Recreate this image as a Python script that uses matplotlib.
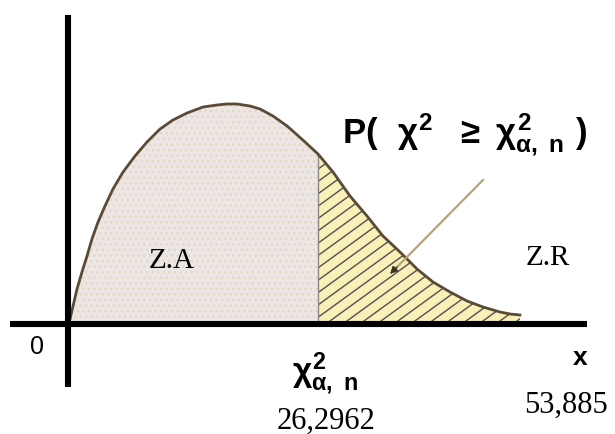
import matplotlib
matplotlib.use("Agg")
import matplotlib.pyplot as plt
import numpy as np

plt.rcParams['mathtext.fontset'] = 'custom'
plt.rcParams['mathtext.rm'] = 'Liberation Sans:bold'
plt.rcParams['mathtext.it'] = 'Liberation Sans:bold'
plt.rcParams['mathtext.bf'] = 'Liberation Sans:bold'

# chi-square curve (x in chi^2 units, y = height above the axis)
curve_x = [0.0, 0.21, 0.53, 0.95, 1.47, 2.00, 2.52, 3.16, 3.89, 4.73, 5.79,
           7.05, 8.31, 9.68, 11.04, 12.52, 14.20, 15.67, 16.72, 17.78, 19.14,
           20.20, 21.56, 23.04, 23.88, 24.93, 26.2962, 27.87, 29.66, 31.45,
           33.13, 34.92, 36.71, 38.39, 40.18, 41.97, 43.65, 45.44, 46.49, 47.54]
curve_y = [0, 5, 18, 35, 52, 68, 85, 102, 118, 135, 152,
           168, 182, 195, 204, 211, 217, 219, 220, 220, 218,
           215, 208, 198, 191, 182, 170, 152, 128, 108,
           88, 72, 55, 42, 32, 23, 17, 12, 10, 9]

critical = 26.2962
critical_label = '26,2962'
upper_label = '53,885'

x = np.array(curve_x)
y = np.array(curve_y)

fig = plt.figure(figsize=(6.15, 4.35), dpi=100)
ax = fig.add_axes([0, 0, 1, 1])
ax.set_xlim(-7.153, 57.535)
ax.set_ylim(-110, 325)
ax.axis('off')

# acceptance zone (left)
left = x <= critical
ax.fill_between(x[left], 0, y[left], facecolor='#ece6e6', edgecolor='#e2dabb',
                hatch='...', linewidth=0)

# rejection zone (right), hatched with shallow diagonal lines
right = x >= critical
poly = ax.fill_between(x[right], 0, y[right], facecolor='#f9f0b8', linewidth=0)
clip = poly.get_paths()[0]
slope = np.tan(np.radians(36)) * 9.507
for x0 in np.arange(critical - 26, 49, 17 / 9.507):
    ln, = ax.plot([x0, x0 + 26], [0, 26 * slope], color='#505050', lw=1.0)
    ln.set_clip_path(clip, ax.transData)

ax.vlines(critical, 0, y[x == critical][0], color='#8a8a80', lw=1)
ax.plot(x, y, color='#5b4a35', lw=2)

# axes drawn as thick black lines
ax.plot([-6.10, 54.59], [0, 0], color='black', lw=4.4, solid_capstyle='butt')
ax.plot([0, 0], [-63, 309], color='black', lw=4.4, solid_capstyle='butt')

# pointer
ax.plot([43.65, 34.3], [144, 54], color='#b5a37a', lw=1.6)
ax.annotate('', xy=(33.87, 50), xytext=(34.6, 57),
            arrowprops=dict(arrowstyle='-|>', color='#3a3020', lw=1,
                            mutation_scale=11, shrinkA=0, shrinkB=0))

ax.text(28.8, 182,
        r'$\mathrm{P(}\ \ \chi^2\ \ \geq\ \chi^2_{\alpha,\ n}\ \mathrm{)}$',
        fontsize=25, ha='left', va='baseline')
ax.text(10.94, 64, 'Z.A', family='Liberation Serif', fontsize=21,
        ha='center', va='center')
ax.text(50.49, 67, 'Z.R', family='Liberation Serif', fontsize=21,
        ha='center', va='center')
ax.text(-3.26, -22, '0', family='Liberation Sans', fontsize=18,
        ha='center', va='center')
ax.text(53.86, -33, 'x', family='Liberation Sans', fontweight='bold',
        fontsize=19, ha='center', va='center')
ax.text(23.56, -57, r'$\chi^2_{\alpha,\ n}$', fontsize=24, ha='left',
        va='baseline')
ax.text(27.14, -96, critical_label, family='Liberation Serif', fontsize=22,
        ha='center', va='center')
ax.text(52.38, -80, upper_label, family='Liberation Serif', fontsize=22,
        ha='center', va='center')

fig.savefig('out.png', dpi=100)
